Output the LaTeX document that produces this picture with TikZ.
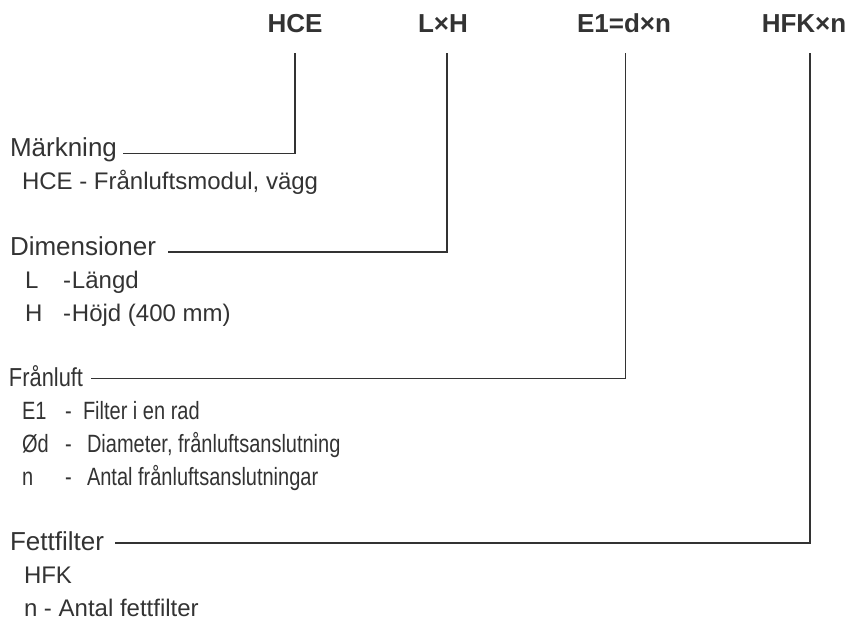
\documentclass[tikz,border=0pt]{standalone}
\usepackage{fontspec}
\setmainfont{Liberation Sans}
\newfontfamily\condfont{Liberation Sans}[FakeStretch=0.8]
\newfontfamily\condtfont{Liberation Sans}[FakeStretch=0.84]
\definecolor{ink}{HTML}{333333}
\tikzset{
  lbl/.style={anchor=base west, inner sep=0pt, outer sep=0pt, text=ink},
  head/.style={anchor=base, inner sep=0pt, text=ink, font=\fontsize{26}{30}\selectfont\bfseries},
  ttl/.style={lbl, font=\fontsize{26}{30}\selectfont},
  item/.style={lbl, font=\fontsize{24}{28}\selectfont},
  cttl/.style={lbl, font=\condtfont\fontsize{26}{30}\selectfont},
  citem/.style={lbl, font=\condfont\fontsize{25}{30}\selectfont},
  conn/.style={draw=ink, line width=1.8pt},
}
\begin{document}
\begin{tikzpicture}[x=1pt,y=-1pt]
\useasboundingbox (0,0) rectangle (849,623);
% header
\node[head] (hce) at (295,33) {HCE};
\node[head] (lxh) at (443,33) {L×H};
\node[head] (e1) at (624,33) {E1=d×n};
\node[head] (hfk) at (804,33) {HFK×n};
\coordinate (t1) at (295,53);
\coordinate (t2) at (447,53);
\coordinate (t3) at (625.5,53);
\coordinate (t4) at (810,53);
% Märkning
\node[ttl] (mark) at (10,157) {Märkning};
\node[item] (markA) at (22,189.8) {HCE - Frånluftsmodul, vägg};
\coordinate (s1) at (123,153.5);
\draw[conn] (s1) -| (t1);
% Dimensioner
\node[ttl] (dim) at (10,255.4) {Dimensioner};
\node[item] (dimL) at (25,288.2) {L};
\node[item] (dimLd) at (63,288.2) {-\kern1pt Längd};
\node[item] (dimH) at (25,321) {H};
\node[item] (dimHd) at (63,321) {-\kern1pt Höjd (400 mm)};
\coordinate (s2) at (168,252);
\draw[conn] (s2) -| (t2);
% Frånluft
\node[cttl] (fr) at (9,386.6) {Frånluft};
\node[citem] (frE) at (22,419.4) {E1};
\node[citem] (frEd) at (65,419.4) {-};
\node[citem] (frEt) at (83,419.4) {Filter i en rad};
\node[citem] (frO) at (22,452.2) {Ød};
\node[citem] (frOd) at (65,452.2) {-};
\node[citem] (frOt) at (87,452.2) {Diameter, frånluftsanslutning};
\node[citem] (frN) at (22,485) {n};
\node[citem] (frNd) at (65,485) {-};
\node[citem] (frNt) at (87,485) {Antal frånluftsanslutningar};
\coordinate (s3) at (91,378.5);
\draw[conn] (s3) -| (t3);
% Fettfilter
\node[ttl] (ff) at (10,550.6) {Fettfilter};
\node[item] (ffA) at (24,583.4) {HFK};
\node[item] (ffB) at (24,616.2) {n - Antal fettfilter};
\coordinate (s4) at (115,543);
\draw[conn] (s4) -| (t4);
\end{tikzpicture}
\end{document}
